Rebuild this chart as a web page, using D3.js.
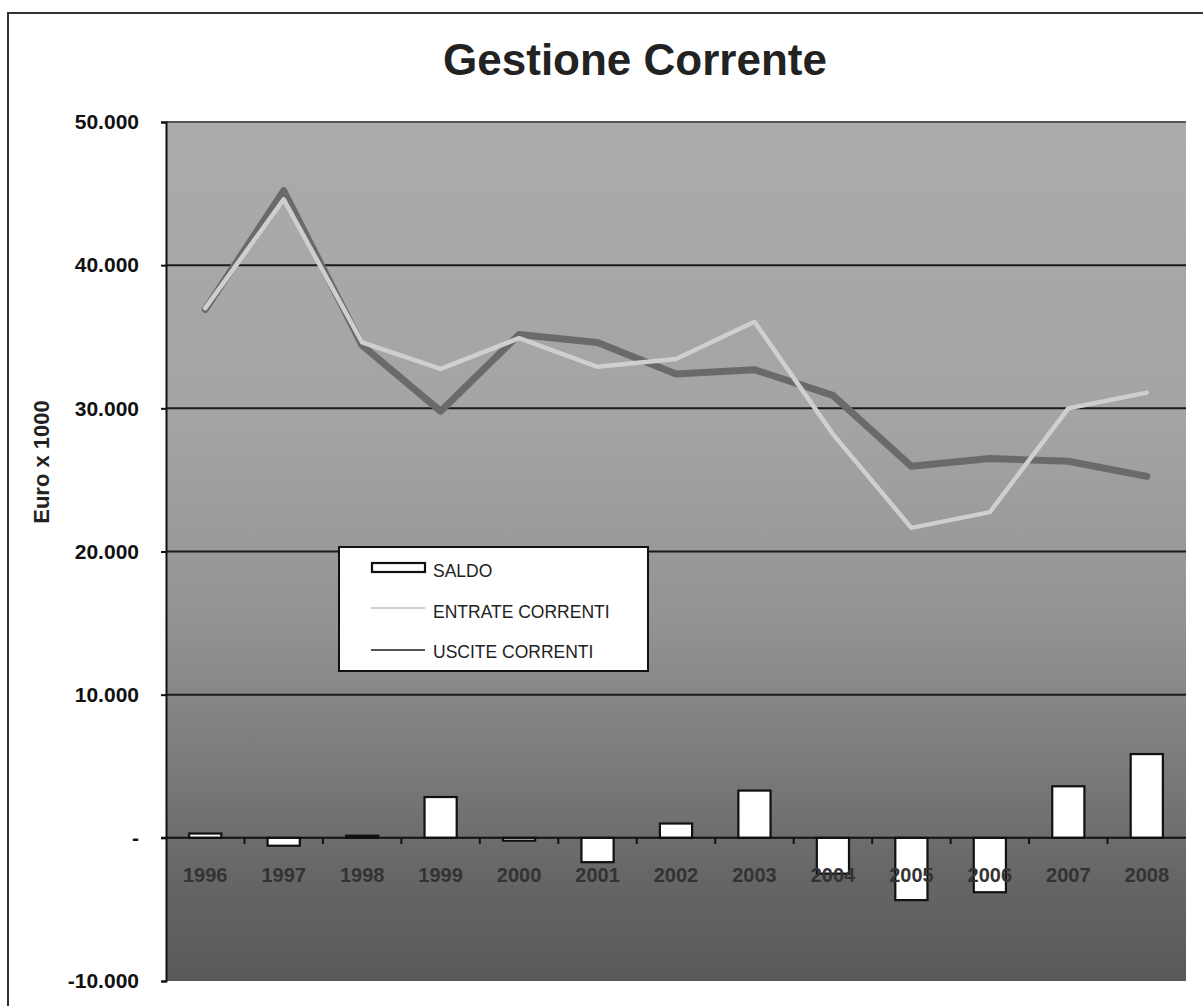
<!DOCTYPE html>
<html>
<head>
<meta charset="utf-8">
<script src="https://cdn.jsdelivr.net/npm/d3@7"></script>
<style>
  html, body { margin: 0; padding: 0; background: #ffffff; }
  svg { display: block; font-family: "Liberation Sans", Arial, sans-serif; }
</style>
</head>
<body>
<svg id="chart" width="1203" height="1006"></svg>
<script>
// Anni di riferimento
const years = ["1996","1997","1998","1999","2000","2001","2002","2003","2004","2005","2006","2007","2008"];
// Valori in migliaia di euro
const entrate = [37000, 44600, 34600, 32750, 34900, 32900, 33450, 36050, 28200, 21650, 22750, 30000, 31100];
const uscite  = [36900, 45200, 34400, 29800, 35150, 34600, 32400, 32700, 30900, 25950, 26500, 26300, 25250];
const saldo   = [300, -550, 150, 2850, -200, -1700, 1000, 3300, -2500, -4350, -3800, 3600, 5850];
const yTicks  = [-10000, 0, 10000, 20000, 30000, 40000, 50000];
const legendItems = ["SALDO", "ENTRATE CORRENTI", "USCITE CORRENTI"];
const titleText = "Gestione Corrente";
const yTitle = "Euro x 1000";

const svg = d3.select("#chart");
const plot = { left: 166, right: 1186, top: 122, bottom: 981 };

const x = d3.scaleBand().domain(years).range([plot.left, plot.right]).padding(0);
const y = d3.scaleLinear().domain([-10000, 50000]).range([plot.bottom, plot.top]);
const cx = d => x(d) + x.bandwidth() / 2;

const it = d3.formatLocale({ decimal: ",", thousands: ".", grouping: [3], currency: ["€", ""], minus: "-" });
const fmt = v => v === 0 ? "-" : it.format(",")(v);

// Cornice esterna del grafico
svg.append("rect")
  .attr("x", 8).attr("y", 13).attr("width", 1400).attr("height", 1200)
  .attr("fill", "none").attr("stroke", "#333").attr("stroke-width", 2);

// Sfondo dell'area del tracciato (sfumatura grigia verticale)
const defs = svg.append("defs");
const grad = defs.append("linearGradient").attr("id", "bg").attr("x1", 0).attr("y1", 0).attr("x2", 0).attr("y2", 1);
[[0, "#ababab"], [0.35, "#a4a4a4"], [0.58, "#939393"], [0.74, "#7c7c7c"], [0.88, "#666666"], [1, "#595959"]]
  .forEach(([o, c]) => grad.append("stop").attr("offset", o).attr("stop-color", c));

svg.append("rect")
  .attr("x", plot.left).attr("y", plot.top)
  .attr("width", plot.right - plot.left).attr("height", plot.bottom - plot.top)
  .attr("fill", "url(#bg)");

// Linee di griglia
svg.append("g")
  .selectAll("line")
  .data(yTicks.filter(v => v > 0))
  .join("line")
  .attr("x1", plot.left).attr("x2", plot.right)
  .attr("y1", d => y(d)).attr("y2", d => y(d))
  .attr("stroke", d => d === 50000 ? "#555" : "#1a1a1a").attr("stroke-width", 2);

// Asse Y
const yAxis = svg.append("g")
  .attr("transform", `translate(${plot.left},0)`)
  .call(d3.axisLeft(y).tickValues(yTicks).tickFormat(fmt).tickSize(5).tickPadding(22));
yAxis.select(".domain").attr("stroke", "#111").attr("stroke-width", 2);
yAxis.selectAll(".tick line").attr("stroke", "#111").attr("stroke-width", 2);
yAxis.selectAll(".tick text")
  .attr("font-size", 21).attr("font-weight", "bold").attr("fill", "#111")
  .attr("font-family", "'Liberation Sans', Arial, sans-serif");

// Barre del saldo
svg.append("g")
  .selectAll("rect")
  .data(years.map((yr, i) => ({ yr, v: saldo[i] })))
  .join("rect")
  .attr("x", d => cx(d.yr) - x.bandwidth() * 0.205)
  .attr("width", x.bandwidth() * 0.41)
  .attr("y", d => y(Math.max(0, d.v)))
  .attr("height", d => Math.abs(y(d.v) - y(0)))
  .attr("fill", "#ffffff").attr("stroke", "#111").attr("stroke-width", 2.2);

// Asse X sullo zero
const xAxis = svg.append("g")
  .attr("transform", `translate(0,${y(0)})`)
  .call(d3.axisBottom(x).tickSize(0).tickPadding(30));
xAxis.select(".domain").remove();
svg.append("line")
  .attr("x1", plot.left - 5).attr("x2", plot.right)
  .attr("y1", y(0)).attr("y2", y(0))
  .attr("stroke", "#111").attr("stroke-width", 2);
svg.append("g").selectAll("line")
  .data(years.slice(1))
  .join("line")
  .attr("x1", d => x(d)).attr("x2", d => x(d))
  .attr("y1", y(0)).attr("y2", y(0) + 6)
  .attr("stroke", "#111").attr("stroke-width", 2);
xAxis.selectAll(".tick text")
  .attr("font-size", 20).attr("font-weight", "bold").attr("fill", "#333")
  .attr("font-family", "'Liberation Sans', Arial, sans-serif");

// Linee delle entrate e delle uscite
const line = d3.line().x((d, i) => cx(years[i])).y(d => y(d));
svg.append("path")
  .datum(uscite)
  .attr("d", line)
  .attr("fill", "none").attr("stroke", "#6a6a6a").attr("stroke-width", 7)
  .attr("stroke-linejoin", "round").attr("stroke-linecap", "round");
svg.append("path")
  .datum(entrate)
  .attr("d", line)
  .attr("fill", "none").attr("stroke", "#cfcfcf").attr("stroke-width", 4.5)
  .attr("stroke-linejoin", "round").attr("stroke-linecap", "round");

// Titolo
svg.append("text")
  .attr("x", 635).attr("y", 75)
  .attr("text-anchor", "middle")
  .attr("font-size", 44).attr("font-weight", "bold").attr("fill", "#222")
  .text(titleText);

// Titolo asse Y
svg.append("text")
  .attr("transform", "translate(49,462) rotate(-90)")
  .attr("text-anchor", "middle")
  .attr("font-size", 22).attr("font-weight", "bold").attr("fill", "#222")
  .text(yTitle);

// Legenda
const lg = svg.append("g");
lg.append("rect")
  .attr("x", 339).attr("y", 547).attr("width", 309).attr("height", 124)
  .attr("fill", "#ffffff").attr("stroke", "#111").attr("stroke-width", 2);
lg.append("rect")
  .attr("x", 372).attr("y", 563).attr("width", 53).attr("height", 9)
  .attr("fill", "#ffffff").attr("stroke", "#111").attr("stroke-width", 2.2);
lg.append("line")
  .attr("x1", 371).attr("x2", 425).attr("y1", 608).attr("y2", 608)
  .attr("stroke", "#cfcfcf").attr("stroke-width", 2);
lg.append("line")
  .attr("x1", 371).attr("x2", 425).attr("y1", 650).attr("y2", 650)
  .attr("stroke", "#555").attr("stroke-width", 2);
lg.selectAll("text.item")
  .data(legendItems)
  .join("text")
  .attr("class", "item")
  .attr("x", 433)
  .attr("y", (d, i) => [577, 618, 658][i])
  .attr("font-size", 17.5).attr("fill", "#222")
  .text(d => d);
</script>
</body>
</html>
